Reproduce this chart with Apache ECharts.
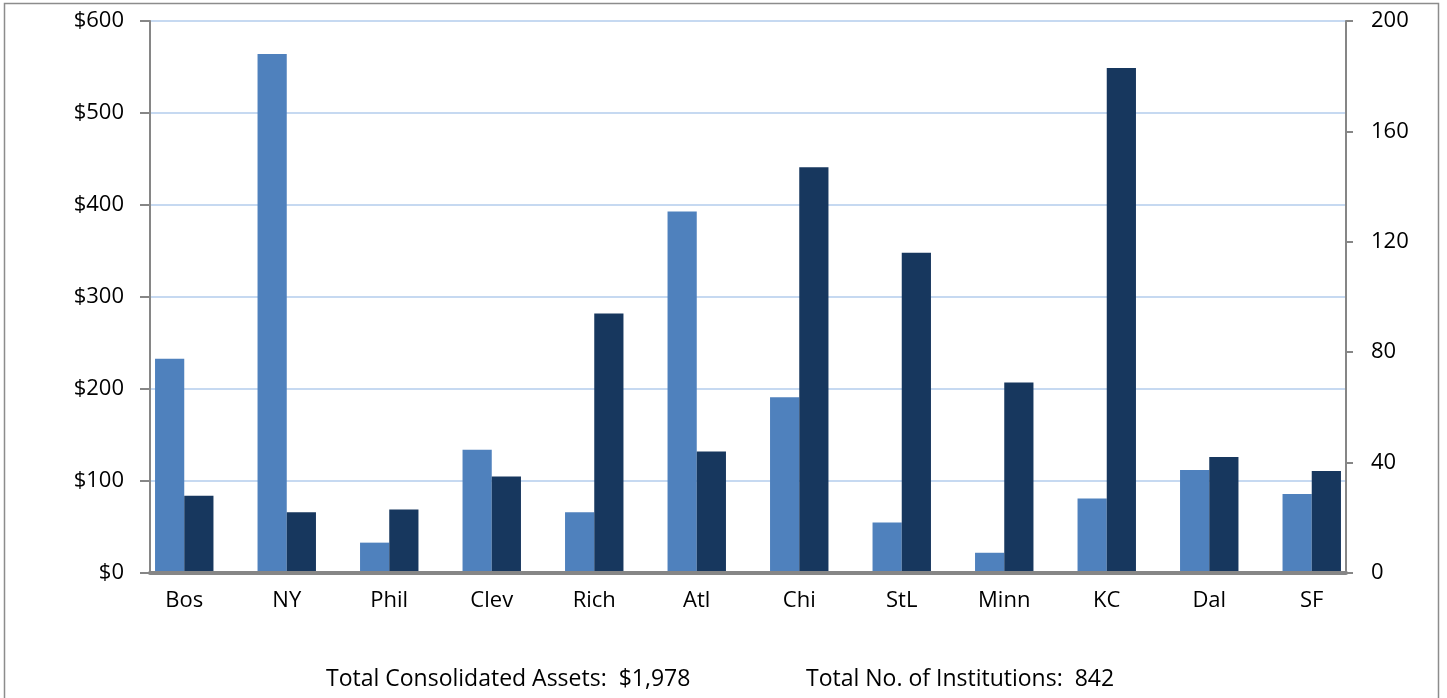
<!DOCTYPE html>
<html>
<head>
<meta charset="utf-8">
<script src="https://cdn.jsdelivr.net/npm/echarts@6/dist/echarts.min.js"></script>
<style>
  html, body { margin: 0; padding: 0; background: #fff; }
  #chart { width: 1447px; height: 698px; }
</style>
</head>
<body>
<div id="chart"></div>
<script>
// Federal Reserve districts
const districts = ['Bos', 'NY', 'Phil', 'Clev', 'Rich', 'Atl', 'Chi', 'StL', 'Minn', 'KC', 'Dal', 'SF'];
// total consolidated assets, $ billions (left axis)
const assets = [233, 564, 33, 134, 66, 393, 191, 55, 22, 81, 112, 86];
// number of institutions (right axis)
const institutions = [28, 22, 23, 35, 94, 44, 147, 116, 69, 183, 42, 37];
const assetTicks = { min: 0, max: 600, interval: 100 };
const countTicks = { min: 0, max: 200, interval: 40 };
const totalAssets = '$1,978';
const totalInstitutions = '842';

const FONT = 'Open Sans';
const chart = echarts.init(document.getElementById('chart'));

const option = {
  backgroundColor: '#fff',
  animation: false,
  grid: [
    // bars
    { left: 133, right: 84, top: 21, bottom: 125 },
    // visible axes
    { left: 150, right: 101, top: 21, bottom: 125 }
  ],
  xAxis: [
    {
      type: 'category',
      gridIndex: 0,
      data: districts,
      axisLine: { show: false },
      axisTick: { show: false },
      axisLabel: { color: '#000', fontFamily: FONT, fontSize: 22, margin: 17 }
    },
    {
      type: 'value',
      gridIndex: 1,
      min: 0,
      max: 1,
      z: 5,
      axisLine: { show: true, lineStyle: { color: '#868686', width: 4 } },
      axisTick: { show: false },
      axisLabel: { show: false },
      splitLine: { show: false }
    }
  ],
  yAxis: [
    {
      type: 'value',
      gridIndex: 1,
      position: 'left',
      min: assetTicks.min,
      max: assetTicks.max,
      interval: assetTicks.interval,
      axisLine: { show: true, lineStyle: { color: '#868686', width: 2 } },
      axisTick: { show: true, length: 10, lineStyle: { color: '#868686', width: 2 } },
      axisLabel: {
        color: '#000', fontFamily: FONT, fontSize: 22, margin: 26,
        formatter: v => '$' + v
      },
      splitLine: { show: true, lineStyle: { color: '#c6d9f1', width: 2 } }
    },
    {
      type: 'value',
      gridIndex: 1,
      position: 'right',
      min: countTicks.min,
      max: countTicks.max,
      interval: countTicks.interval,
      axisLine: { show: true, lineStyle: { color: '#868686', width: 2 } },
      axisTick: { show: true, length: 7, lineStyle: { color: '#868686', width: 2 } },
      axisLabel: { color: '#000', fontFamily: FONT, fontSize: 22, margin: 25 },
      splitLine: { show: false }
    },
    {
      type: 'value', gridIndex: 0, show: false,
      min: assetTicks.min, max: assetTicks.max, interval: assetTicks.interval
    },
    {
      type: 'value', gridIndex: 0, show: false,
      min: countTicks.min, max: countTicks.max, interval: countTicks.interval
    }
  ],
  series: [
    {
      name: 'Total Consolidated Assets',
      type: 'bar',
      xAxisIndex: 0,
      yAxisIndex: 2,
      data: assets,
      barGap: '0%',
      barCategoryGap: '43%',
      itemStyle: { color: '#4f81bd' }
    },
    {
      name: 'Total No. of Institutions',
      type: 'bar',
      xAxisIndex: 0,
      yAxisIndex: 3,
      data: institutions,
      barGap: '0%',
      barCategoryGap: '43%',
      itemStyle: { color: '#17375e' }
    }
  ],
  graphic: [
    {
      type: 'rect',
      shape: { x: 4.5, y: 3.5, width: 1434, height: 720 },
      style: { fill: 'none', stroke: '#8c8c8c', lineWidth: 1.5 },
      silent: true
    },
    {
      type: 'text',
      x: 326, y: 679,
      style: {
        text: 'Total Consolidated Assets:  ' + totalAssets,
        fill: '#000', font: '23px "' + FONT + '"', textVerticalAlign: 'middle'
      }
    },
    {
      type: 'text',
      x: 806, y: 679,
      style: {
        text: 'Total No. of Institutions:  ' + totalInstitutions,
        fill: '#000', font: '23px "' + FONT + '"', textVerticalAlign: 'middle'
      }
    }
  ]
};

chart.setOption(option);
window.addEventListener('resize', () => chart.resize());
</script>
</body>
</html>
